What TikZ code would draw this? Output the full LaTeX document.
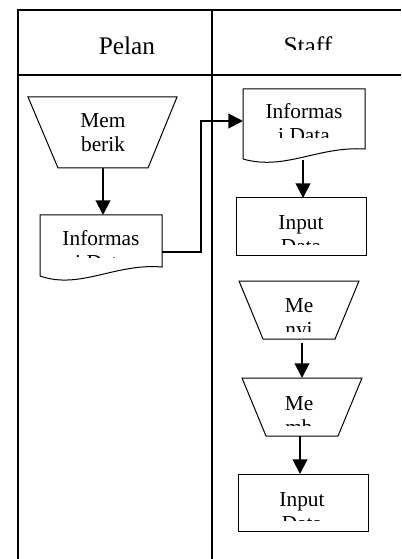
\documentclass[tikz,border=0pt]{standalone}
\usepackage{fontspec}
\setmainfont{Liberation Serif}
\usetikzlibrary{arrows.meta}
\begin{document}
\begin{tikzpicture}[x=0.75pt,y=-0.75pt,
  frame/.style={line width=1.5pt},
  shapeline/.style={line width=0.75pt},
  flow/.style={line width=1.5pt,-{Triangle[width=11pt,length=11pt]}},
  lbl/.style={font=\fontsize{16}{18}\selectfont,inner sep=0pt,anchor=base},
  hdr/.style={font=\fontsize{19}{22}\selectfont,inner sep=0pt,anchor=base}]
\useasboundingbox (0,0) rectangle (401,559);
% frame
\draw[frame] (401,10) -- (18,10) -- (18,559);
\draw[frame] (18,75) -- (401,75);
\draw[frame] (212,10) -- (212,559);
\begin{scope}
  \clip (20,12) rectangle (210,73);
  \node[hdr] (h1) at (127,55) {Pelan};
\end{scope}
\begin{scope}
  \clip (214,12) rectangle (401,50);
  \node[hdr] (h2) at (308,55) {Staff};
\end{scope}
% trapezoid Mem berik
\draw[shapeline] (28,97) -- (177,97) -- (148,168) -- (58,168) -- cycle;
\coordinate (m1b) at (103,168);
\node[lbl] (m1t) at (103,128) {Mem};
\node[lbl] (m1u) at (103,152) {berik};
% document left
\draw[shapeline] (40,276) -- (40,215) -- (162,215) -- (162,267)
  .. controls (115,263) and (80,290) .. (40,276);
\coordinate (d1t) at (103,215);
\coordinate (d1r) at (162,252);
\begin{scope}
  \clip (41,216) rectangle (161,257);
  \node[lbl] (d1a) at (101,245) {Informas};
  \node[lbl] (d1b) at (101,269) {i Data};
\end{scope}
\draw[flow] (m1b) -- (d1t);
% document right
\draw[shapeline] (243,159) -- (243,89) -- (365,89) -- (365,149)
  .. controls (318,146) and (285,171) .. (243,159);
\coordinate (d2l) at (243,121);
\coordinate (d2b) at (303,160);
\begin{scope}
  \clip (244,90) rectangle (364,138);
  \node[lbl] (d2a) at (304,119) {Informas};
  \node[lbl] (d2c) at (304,143) {i Data};
\end{scope}
\draw[line width=1.5pt,-{Triangle[width=11pt,length=11pt]}] (d1r) -| (201,121) -- (d2l);
% input data 1
\draw[shapeline] (236,198) rectangle (366,255);
\coordinate (r1t) at (303,198);
\begin{scope}
  \clip (237,199) rectangle (365,245);
  \node[lbl] (r1a) at (301,229) {Input};
  \node[lbl] (r1b) at (301,253) {Data};
\end{scope}
\draw[flow] (d2b) -- (r1t);
% trapezoid Me nyi
\draw[shapeline] (239,281) -- (359,281) -- (335,339) -- (263,339) -- cycle;
\coordinate (t2b) at (302,343);
\begin{scope}
  \clip (240,282) rectangle (358,331);
  \node[lbl] (t2a) at (299,312) {Me};
  \node[lbl] (t2c) at (299,336) {nyi};
\end{scope}
% trapezoid Me mb
\draw[shapeline] (242,378) -- (362,378) -- (338,436) -- (266,436) -- cycle;
\coordinate (t3t) at (302,378);
\coordinate (t3b) at (300,436);
\begin{scope}
  \clip (243,379) rectangle (361,425);
  \node[lbl] (t3a) at (299,410) {Me};
  \node[lbl] (t3c) at (299,434) {mb};
\end{scope}
\draw[flow] (t2b) -- (t3t);
% input data 2
\draw[shapeline] (238,474) rectangle (368,531);
\coordinate (r2t) at (300,474);
\begin{scope}
  \clip (239,475) rectangle (367,520);
  \node[lbl] (r2a) at (302,506) {Input};
  \node[lbl] (r2b) at (302,530) {Data};
\end{scope}
\draw[flow] (t3b) -- (r2t);
\end{tikzpicture}
\end{document}
